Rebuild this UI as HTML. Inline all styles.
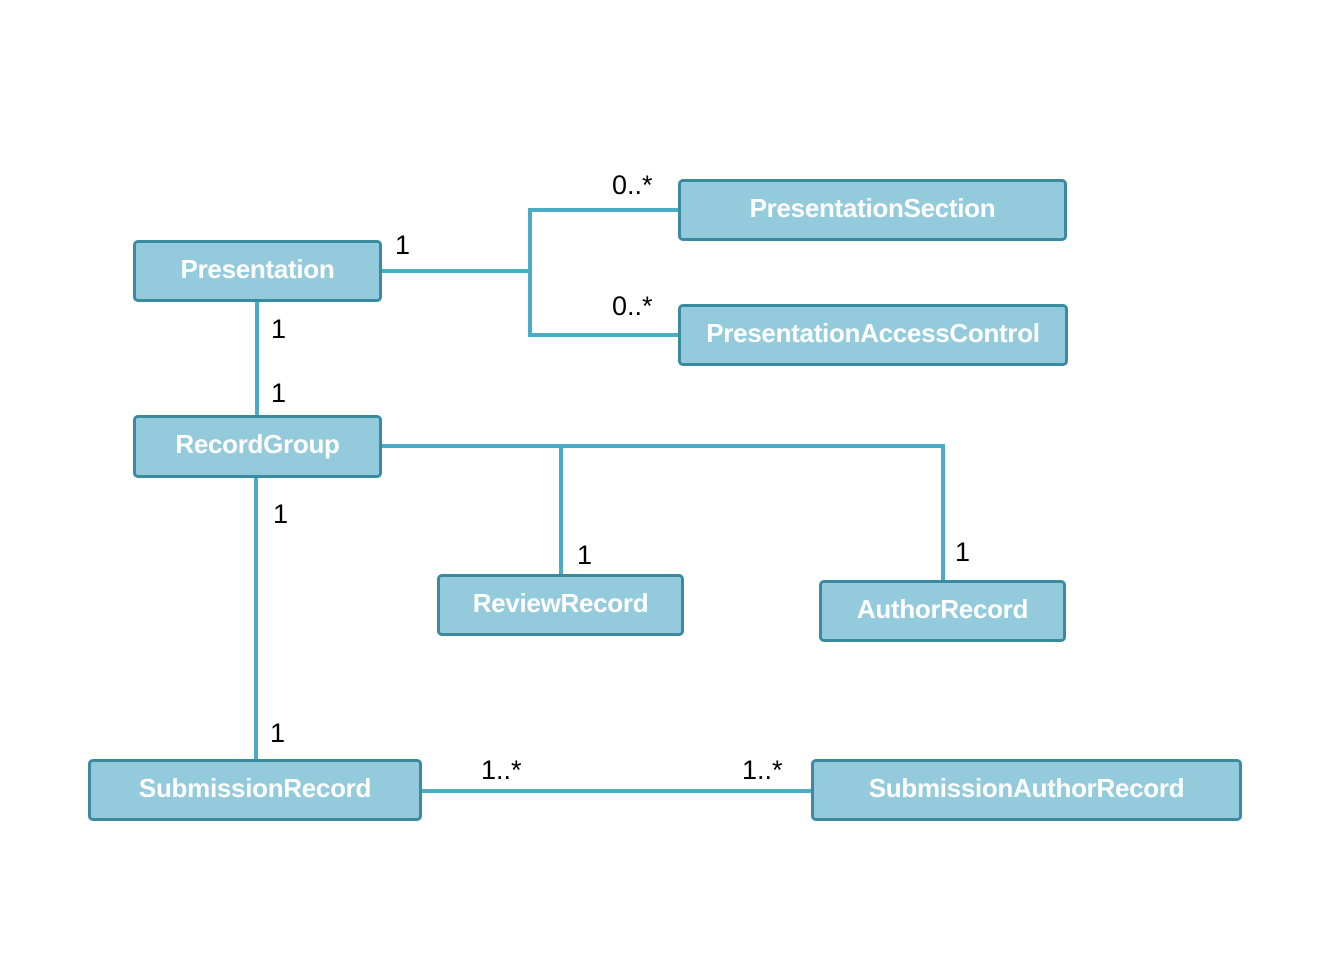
<!DOCTYPE html>
<html><head><style>
body{margin:0;background:#fff;width:1333px;height:972px;overflow:hidden;position:relative;font-family:"Liberation Sans",sans-serif}
.b{position:absolute;box-sizing:border-box;background:#93cbdc;border:3px solid #3a8aa0;border-radius:5px;color:#fff;font-weight:bold;font-size:26px;display:flex;align-items:center;justify-content:center;letter-spacing:-0.3px;padding-bottom:4px}
.l{position:absolute;font-size:27px;color:#000;line-height:1}
</style></head><body>
<svg width="1333" height="972" style="position:absolute;left:0;top:0">
<g stroke="#4bacc6" stroke-width="4" fill="none">
<polyline points="382,271 530,271"/>
<polyline points="678,210 530,210 530,335 678,335"/>
<line x1="257" y1="302" x2="257" y2="415"/>
<polyline points="382,446 943,446 943,580"/>
<line x1="561" y1="446" x2="561" y2="574"/>
<line x1="256" y1="478" x2="256" y2="759"/>
<line x1="422" y1="791" x2="811" y2="791"/>
</g></svg>
<div class="b" style="left:133px;top:240px;width:249px;height:62px">Presentation</div>
<div class="b" style="left:678px;top:179px;width:389px;height:62px">PresentationSection</div>
<div class="b" style="left:678px;top:304px;width:390px;height:62px">PresentationAccessControl</div>
<div class="b" style="left:133px;top:415px;width:249px;height:63px">RecordGroup</div>
<div class="b" style="left:437px;top:574px;width:247px;height:62px">ReviewRecord</div>
<div class="b" style="left:819px;top:580px;width:247px;height:62px">AuthorRecord</div>
<div class="b" style="left:88px;top:759px;width:334px;height:62px">SubmissionRecord</div>
<div class="b" style="left:811px;top:759px;width:431px;height:62px">SubmissionAuthorRecord</div>
<div class="l" style="left:395px;top:232px">1</div>
<div class="l" style="left:612px;top:172px">0..*</div>
<div class="l" style="left:612px;top:293px">0..*</div>
<div class="l" style="left:271px;top:316px">1</div>
<div class="l" style="left:271px;top:380px">1</div>
<div class="l" style="left:273px;top:501px">1</div>
<div class="l" style="left:577px;top:542px">1</div>
<div class="l" style="left:955px;top:539px">1</div>
<div class="l" style="left:270px;top:720px">1</div>
<div class="l" style="left:481px;top:757px">1..*</div>
<div class="l" style="left:742px;top:757px">1..*</div>
</body></html>
